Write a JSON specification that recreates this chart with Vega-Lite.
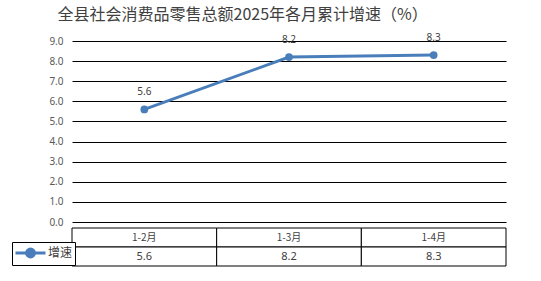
{
  "$schema": "https://vega.github.io/schema/vega-lite/v6.json",
  "padding": {"left": 11, "top": 7, "right": 34, "bottom": 20},
  "background": "white",
  "title": {"text": "全县社会消费品零售总额2025年各月累计增速（%）", "anchor": "start", "dx": 46, "fontSize": 16, "fontWeight": "normal", "color": "#404040", "font": "Noto Sans CJK SC", "offset": 10},
  "data": {"values": [
    {"period": "1-2月", "value": 5.6},
    {"period": "1-3月", "value": 8.2},
    {"period": "1-4月", "value": 8.3}
  ]},
  "spacing": 0,
  "vconcat": [
    {
      "width": 434,
      "height": 181,
      "encoding": {
        "x": {"field": "period", "type": "nominal", "scale": {"type": "point", "padding": 0.5}, "axis": null},
        "y": {"field": "value", "type": "quantitative", "scale": {"domain": [0, 9]},
          "axis": {"values": [0, 1, 2, 3, 4, 5, 6, 7, 8, 9], "format": ".1f", "grid": true, "gridColor": "black", "gridOpacity": 1, "gridWidth": 1, "domain": false, "ticks": false, "labelColor": "#595959", "labelFontSize": 10, "labelPadding": 9, "title": null, "labelFont": "Noto Sans"}}
      },
      "layer": [
        {"mark": {"type": "line", "strokeWidth": 3},
         "encoding": {"color": {"datum": "增速", "type": "nominal", "scale": {"range": ["#4A7EBB"]},
           "legend": {"orient": "none", "legendX": -60, "legendY": 201, "title": null, "strokeColor": "black", "fillColor": "white", "padding": 2, "symbolType": "M-1,0H3M0.47,0A0.53,0.53,0,1,0,1.53,0A0.53,0.53,0,1,0,0.47,0", "symbolSize": 225, "symbolStrokeWidth": 3, "symbolFillColor": "#4A7EBB", "symbolStrokeColor": "#4A7EBB", "labelFontSize": 12, "labelColor": "#404040", "labelOffset": 16, "labelFont": "Noto Sans CJK SC"}}}},
        {"mark": {"type": "point", "filled": true, "size": 60, "opacity": 1},
         "encoding": {"color": {"datum": "增速", "type": "nominal"}}},
        {"mark": {"type": "text", "dy": -17, "fontSize": 10, "color": "#404040", "font": "Noto Sans"},
         "encoding": {"text": {"field": "value", "type": "quantitative", "format": ".1f"}}}
      ]
    },
    {
      "width": 434,
      "height": 38,
      "encoding": {
        "x": {"field": "period", "type": "nominal", "scale": {"type": "band", "paddingInner": 0, "paddingOuter": 0}, "axis": null}
      },
      "layer": [
        {"mark": {"type": "rect", "fill": "white", "stroke": "black", "strokeWidth": 1},
         "encoding": {"y": {"datum": "h", "type": "nominal", "scale": {"domain": ["h", "v"], "paddingInner": 0, "paddingOuter": 0}, "axis": null}}},
        {"mark": {"type": "rect", "fill": "white", "stroke": "black", "strokeWidth": 1},
         "encoding": {"y": {"datum": "v", "type": "nominal"}}},
        {"mark": {"type": "text", "fontSize": 10, "color": "#404040", "font": "Noto Sans CJK SC"},
         "encoding": {"y": {"datum": "h", "type": "nominal"}, "text": {"field": "period", "type": "nominal"}}},
        {"mark": {"type": "text", "fontSize": 11, "color": "#404040", "font": "Noto Sans"},
         "encoding": {"y": {"datum": "v", "type": "nominal"}, "text": {"field": "value", "type": "quantitative", "format": ".1f"}}}
      ]
    }
  ],
  "config": {"view": {"stroke": null}}
}
